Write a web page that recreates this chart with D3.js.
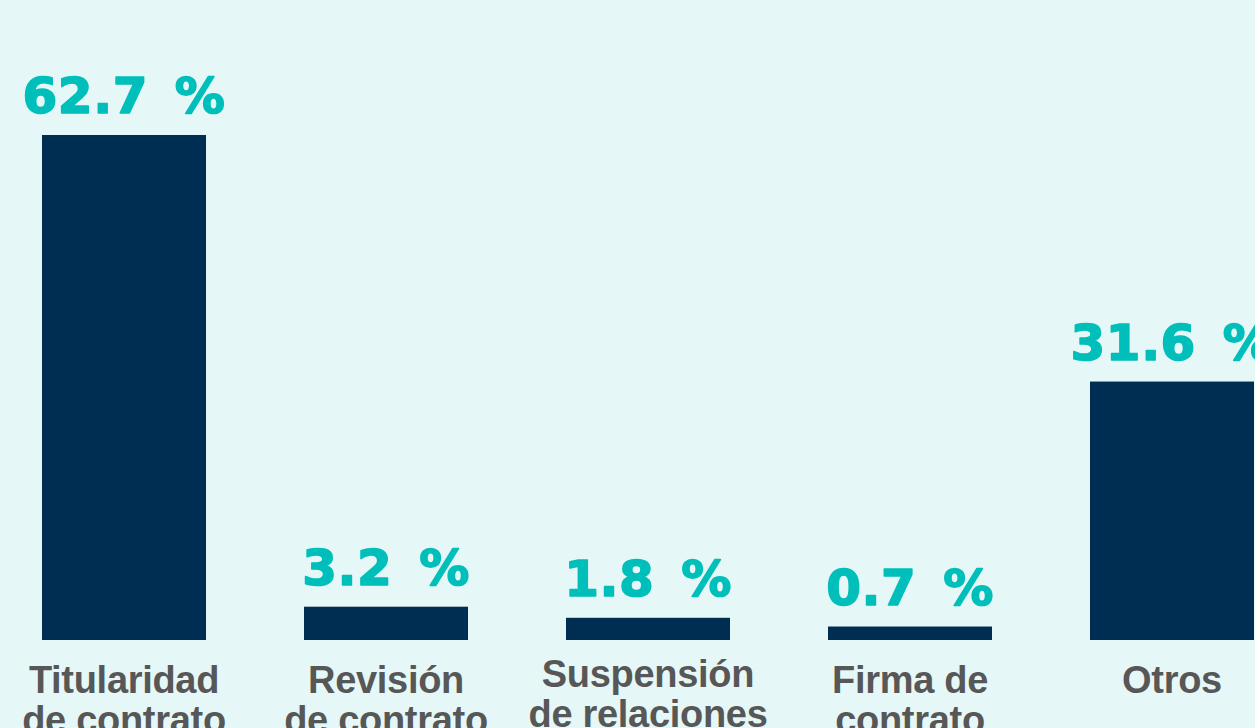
<!DOCTYPE html>
<html><head><meta charset="utf-8">
<script src="https://cdn.jsdelivr.net/npm/d3@7"></script>
<style>
html,body{margin:0;padding:0;background:#e6f7f7;overflow:hidden;}
svg{display:block;}
</style></head>
<body>
<svg id="chart" width="1255" height="728"></svg>
<script>
const categories = [
  ["Titularidad","de contrato"],
  ["Revisión","de contrato"],
  ["Suspensión","de relaciones","laborales"],
  ["Firma de","contrato"],
  ["Otros"]
];
const values = [62.7, 3.2, 1.8, 0.7, 31.6];
const valueLabels = ["62.7 %","3.2 %","1.8 %","0.7 %","31.6 %"];

const W = 1255, H = 728;
const svg = d3.select("#chart");
svg.append("rect").attr("width",W).attr("height",H).attr("fill","#e6f7f7");

const idx = d3.range(values.length);
const x = d3.scaleBand().domain(idx).range([42, 1254]).paddingInner(0.374).paddingOuter(0);
const y = d3.scaleLinear().domain([-1.0, 62.7]).range([640, 135]);

svg.selectAll("rect.bar").data(idx).join("rect")
  .attr("class","bar")
  .attr("x", i => x(i))
  .attr("width", x.bandwidth())
  .attr("y", i => y(values[i]))
  .attr("height", i => y.range()[0] - y(values[i]))
  .attr("fill","#002d52");

svg.selectAll("text.val").data(idx).join("text")
  .attr("class","val")
  .attr("x", i => x(i) + x.bandwidth()/2)
  .attr("y", i => y(values[i]) - 22)
  .attr("text-anchor","middle")
  .attr("font-family","DejaVu Sans")
  .attr("font-weight","bold")
  .attr("font-size", 50)
  .attr("letter-spacing", 0.5)
  .attr("word-spacing", 9)
  .attr("fill","#00bfba")
  .attr("stroke","#00bfba")
  .attr("stroke-width", 1.6)
  .attr("stroke-linejoin","round")
  .text(i => valueLabels[i]);

const cat = svg.selectAll("text.cat").data(idx).join("text")
  .attr("class","cat")
  .attr("x", i => x(i) + x.bandwidth()/2)
  .attr("y", i => categories[i].length > 2 ? 687 : 693)
  .attr("text-anchor","middle")
  .attr("font-family","Liberation Sans, Arial, sans-serif")
  .attr("font-weight","bold")
  .attr("font-size", 38)
  .attr("letter-spacing", -0.3)
  .attr("fill","#575757");
cat.selectAll("tspan").data(i => categories[i].map(t => ({t, i}))).join("tspan")
  .attr("x", d => x(d.i) + x.bandwidth()/2)
  .attr("dy", (d, k) => k === 0 ? 0 : 40)
  .text(d => d.t);
</script>
</body></html>
